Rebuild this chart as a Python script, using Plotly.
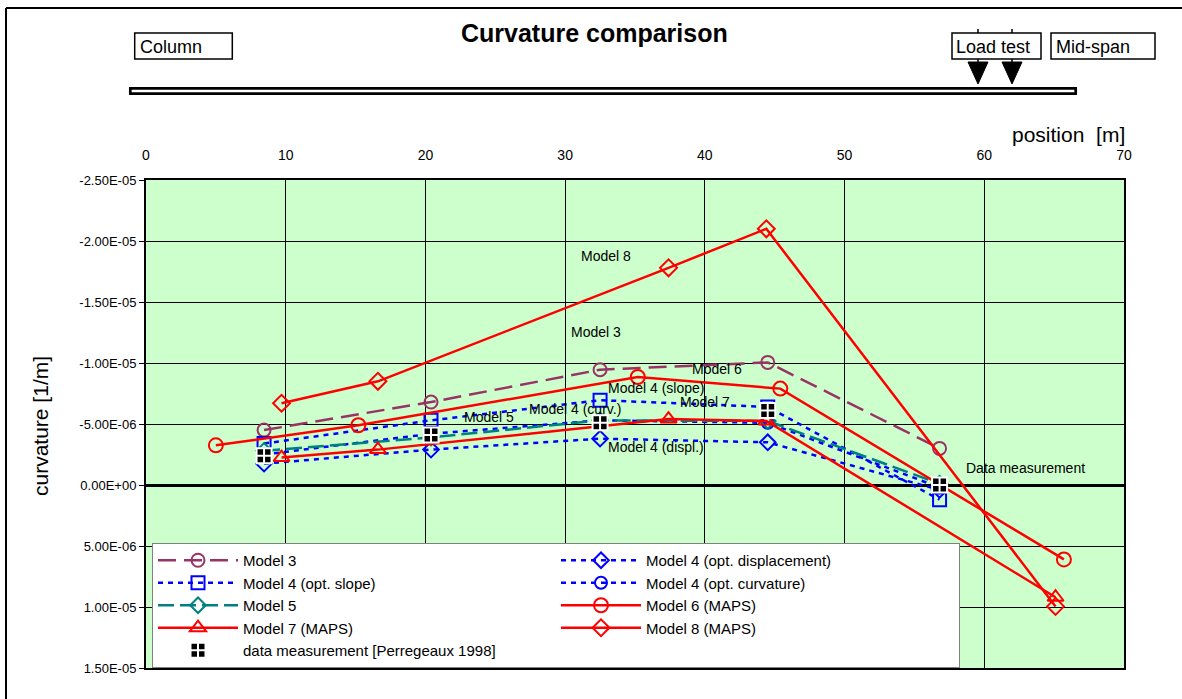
import plotly.graph_objects as go

# ---- data -------------------------------------------------------------
# positions along the span [m]
pos_main = [8.45, 20.4, 32.5, 44.5, 56.8]     # Models 3, 4, 5 and measurements
pos_m6 = [5.0, 15.2, 35.2, 45.4, 65.7]        # Model 6 (MAPS)
pos_m78 = [9.7, 16.6, 37.4, 44.4, 65.1]       # Models 7 and 8 (MAPS)

# curvature [1/m]
model3 = [-4.5e-6, -6.8e-6, -9.45e-6, -1.005e-5, -3.0e-6]
model4_displ = [-1.75e-6, -2.9e-6, -3.8e-6, -3.5e-6, 0.4e-6]
model4_slope = [-3.4e-6, -5.3e-6, -6.95e-6, -6.4e-6, 1.2e-6]
model4_curv = [-2.5e-6, -4.2e-6, -5.3e-6, -5.1e-6, 0.2e-6]
model5 = [-2.8e-6, -3.9e-6, -5.3e-6, -5.25e-6, -0.1e-6]
model6 = [-3.25e-6, -4.9e-6, -8.85e-6, -7.9e-6, 6.1e-6]
model7 = [-2.25e-6, -2.9e-6, -5.4e-6, -5.25e-6, 9.2e-6]
model8 = [-6.7e-6, -8.5e-6, -1.78e-5, -2.1e-5, 9.95e-6]
measured = [-2.4e-6, -4.1e-6, -5.1e-6, -6.1e-6, 0.0]

x_ticks = [0, 10, 20, 30, 40, 50, 60, 70]
y_ticks = [-2.5e-5, -2.0e-5, -1.5e-5, -1.0e-5, -5.0e-6, 0.0, 5.0e-6, 1.0e-5, 1.5e-5]
y_tick_text = ["-2.50E-05", "-2.00E-05", "-1.50E-05", "-1.00E-05", "-5.00E-06",
               "0.00E+00", "5.00E-06", "1.00E-05", "1.50E-05"]

# ---- layout geometry (pixels) -----------------------------------------
W, H = 1182, 699
L, R, T, B = 146, 1124, 180, 668


def px(xp):
    return (xp - L) / (R - L)


def py(yp):
    return (B - yp) / (B - T)


PURPLE = "#993366"
BLUE = "#0000FF"
TEAL = "#008080"
RED = "#FF0000"
FONT = "Liberation Sans, Arial, sans-serif"

fig = go.Figure()


def add_series(name, x, y, color, dash, symbol, size):
    fig.add_trace(go.Scatter(
        x=x, y=y, name=name, mode="lines+markers",
        line=dict(color=color, width=2.5, dash=dash),
        marker=dict(symbol=symbol, size=size, color=color,
                    line=dict(color=color, width=2)),
    ))


add_series("Model 3", pos_main, model3, PURPLE, "18px,8px", "circle-open", 13)
add_series("Model 4 (opt. displacement)", pos_main, model4_displ, BLUE, "5px,5px", "diamond-open", 12)
add_series("Model 4 (opt. slope)", pos_main, model4_slope, BLUE, "5px,5px", "square-open", 13)
add_series("Model 4 (opt. curvature)", pos_main, model4_curv, BLUE, "5px,5px", "circle-open", 12)
add_series("Model 5", pos_main, model5, TEAL, "16px,6px", "diamond-open", 12)
add_series("Model 6 (MAPS)", pos_m6, model6, RED, "solid", "circle-open", 14)
add_series("Model 7 (MAPS)", pos_m78, model7, RED, "solid", "triangle-up-open", 14)
add_series("Model 8 (MAPS)", pos_m78, model8, RED, "solid", "diamond-open", 13)

fig.add_trace(go.Scatter(
    x=pos_main, y=measured, name="data measurement [Perregeaux 1998]",
    mode="markers",
    marker=dict(symbol="square-cross", size=15, color="black",
                line=dict(color="white", width=2)),
))

# ---- in-plot labels ----------------------------------------------------
labels = [
    ("Model 8", 606, 256, "center"),
    ("Model 3", 596, 332, "center"),
    ("Model 6", 717, 369, "center"),
    ("Model 4 (slope)", 656, 388, "center"),
    ("Model 7", 705, 402, "center"),
    ("Model 4 (curv.)", 575, 409, "center"),
    ("Model 5", 489, 417, "center"),
    ("Model 4 (displ.)", 656, 447, "center"),
    ("Data measurement", 964, 468, "left"),
]
annotations = []
for text, xp, yp, anchor in labels:
    annotations.append(dict(text=text, x=px(xp), y=py(yp), xref="paper", yref="paper",
                            xanchor=anchor, yanchor="middle", showarrow=False,
                            font=dict(size=14, family=FONT, color="black")))

# title, axis titles and the beam sketch labels
annotations += [
    dict(text="<b>Curvature comparison</b>", x=px(594), y=py(33), xref="paper", yref="paper",
         xanchor="center", yanchor="middle", showarrow=False,
         font=dict(size=25, family=FONT, color="black")),
    dict(text="position  [m]", x=px(1068), y=py(134), xref="paper", yref="paper",
         xanchor="center", yanchor="middle", showarrow=False,
         font=dict(size=21, family=FONT, color="black")),
    dict(text="curvature [1/m]", x=px(40), y=py(426), xref="paper", yref="paper",
         xanchor="center", yanchor="middle", showarrow=False, textangle=-90,
         font=dict(size=21, family=FONT, color="black")),
    dict(text="Column", x=px(138), y=py(47), xref="paper", yref="paper",
         xanchor="left", yanchor="middle", showarrow=False,
         font=dict(size=18, family=FONT, color="black")),
    dict(text="Load test", x=px(954), y=py(47), xref="paper", yref="paper",
         xanchor="left", yanchor="middle", showarrow=False,
         font=dict(size=18, family=FONT, color="black")),
    dict(text="Mid-span", x=px(1054), y=py(47), xref="paper", yref="paper",
         xanchor="left", yanchor="middle", showarrow=False,
         font=dict(size=18, family=FONT, color="black")),
]

shapes = []


def rect(x0, y0, x1, y1, lw=1.5, fill="white"):
    shapes.append(dict(type="rect", xref="paper", yref="paper",
                       x0=px(x0), x1=px(x1), y0=py(y0), y1=py(y1),
                       line=dict(color="black", width=lw), fillcolor=fill, layer="above"))


def seg(x0, y0, x1, y1, lw=1.5):
    shapes.append(dict(type="line", xref="paper", yref="paper",
                       x0=px(x0), x1=px(x1), y0=py(y0), y1=py(y1),
                       line=dict(color="black", width=lw), layer="above"))


# outer chart frame
seg(6, 8, 1200, 8, 2)
seg(6, 8, 6, 720, 2)

# beam drawn as a double line
rect(130.3, 88.3, 1075.7, 93.7, lw=2.7)

# load arrows
for xa in (978, 1012):
    seg(xa, 29, xa, 62, 1.5)
    shapes.append(dict(type="path", xref="paper", yref="paper",
                       path=f"M {px(xa - 10)} {py(62)} L {px(xa + 10)} {py(62)} L {px(xa)} {py(84)} Z",
                       line=dict(color="black", width=1), fillcolor="black", layer="above"))

# label boxes
rect(134.7, 33, 232.3, 59)
rect(952, 33, 1041, 59)
rect(1051, 33, 1155, 59)

fig.update_layout(
    width=W, height=H, autosize=False,
    margin=dict(l=L, r=W - R, t=T, b=H - B, pad=0),
    paper_bgcolor="white", plot_bgcolor="#CCFFCC",
    font=dict(family=FONT, color="black"),
    annotations=annotations, shapes=shapes,
    legend=dict(
        x=px(152), y=py(543), xanchor="left", yanchor="top",
        orientation="h", entrywidth=308, entrywidthmode="pixels",
        itemwidth=80, tracegroupgap=0,
        font=dict(size=15, family=FONT, color="black"),
        bgcolor="white", bordercolor="#808080", borderwidth=1,
    ),
    xaxis=dict(
        range=[0, 70], side="top", tickvals=x_ticks,
        ticks="outside", ticklen=12, tickcolor="rgba(0,0,0,0)",
        tickfont=dict(size=14, family=FONT, color="black"),
        showgrid=True, gridcolor="black", gridwidth=1,
        showline=True, linecolor="black", linewidth=2, mirror=True,
        zeroline=False,
    ),
    xaxis2=dict(
        range=[0, 70], overlaying="x", anchor="free", position=py(484),
        side="bottom", tickvals=x_ticks, ticks="outside", ticklen=4,
        tickwidth=2, tickcolor="black", showticklabels=False,
        showgrid=False, showline=False, zeroline=False,
    ),
    yaxis=dict(
        range=[1.5e-5, -2.5e-5], tickvals=y_ticks, ticktext=y_tick_text,
        ticks="outside", ticklen=5, tickcolor="black",
        tickfont=dict(size=13, family=FONT, color="black"),
        showgrid=True, gridcolor="black", gridwidth=1,
        showline=True, linecolor="black", linewidth=2, mirror=True,
        zeroline=True, zerolinecolor="black", zerolinewidth=3,
    ),
)

fig.write_html("out.html")
